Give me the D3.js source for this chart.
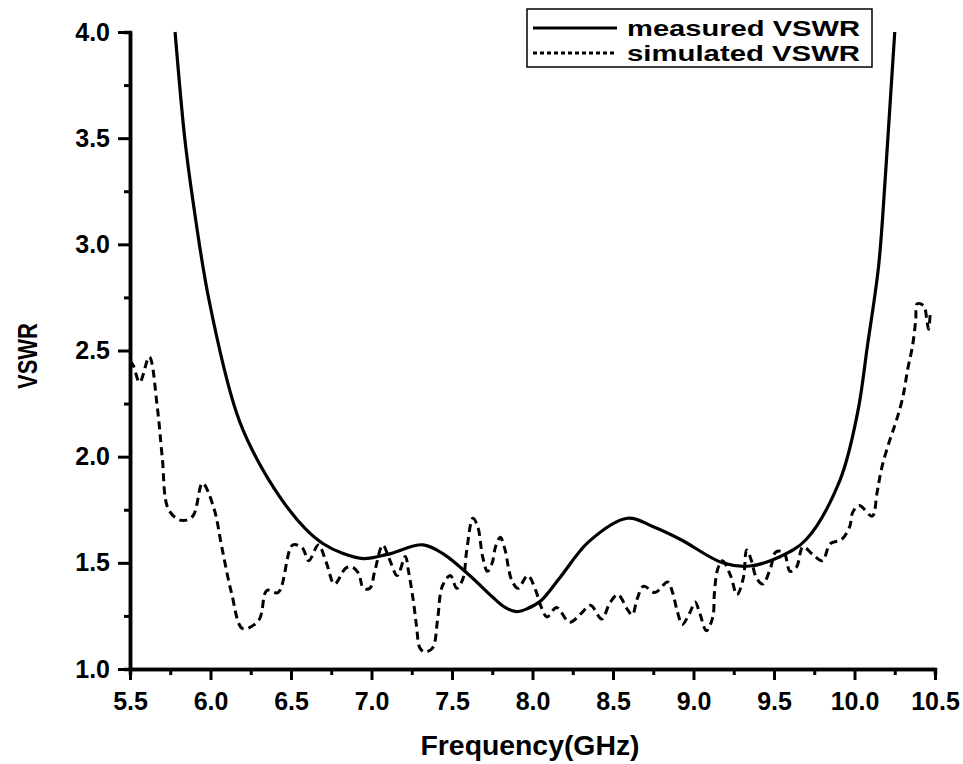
<!DOCTYPE html>
<html>
<head>
<meta charset="utf-8">
<script src="https://cdn.jsdelivr.net/npm/d3@7"></script>
<style>
  html, body { margin: 0; padding: 0; background: #fff; }
  svg { display: block; }
  text { font-family: "Liberation Sans", Arial, sans-serif; font-weight: bold; fill: #000; }
</style>
</head>
<body>
<svg id="chart" width="963" height="764"></svg>
<script>
// Measured VSWR: frequency (GHz) and VSWR
const measuredFreq = [5.78, 5.84, 5.89, 5.99, 6.16, 6.26, 6.44, 6.59, 6.70, 6.82, 6.95, 7.10, 7.32, 7.45, 7.61, 7.75, 7.83, 7.90, 7.97, 8.05, 8.17, 8.35, 8.59, 8.75, 8.92, 9.18, 9.35, 9.54, 9.70, 9.91, 10.02, 10.08, 10.15, 10.19, 10.22, 10.25];
const measuredVswr = [4.00, 3.50, 3.21, 2.74, 2.21, 2.03, 1.80, 1.66, 1.59, 1.545, 1.52, 1.54, 1.585, 1.54, 1.44, 1.34, 1.29, 1.27, 1.285, 1.32, 1.43, 1.60, 1.71, 1.67, 1.61, 1.50, 1.485, 1.53, 1.61, 1.89, 2.21, 2.52, 2.90, 3.30, 3.65, 4.00];

// Simulated VSWR: frequency (GHz) and VSWR
const simulatedFreq = [5.50, 5.52, 5.56, 5.62, 5.67, 5.70, 5.74, 5.82, 5.89, 5.95, 6.02, 6.07, 6.13, 6.20, 6.30, 6.35, 6.42, 6.51, 6.57, 6.61, 6.67, 6.72, 6.77, 6.84, 6.88, 6.92, 6.95, 6.99, 7.02, 7.07, 7.11, 7.16, 7.21, 7.23, 7.26, 7.28, 7.30, 7.33, 7.38, 7.41, 7.44, 7.49, 7.53, 7.57, 7.59, 7.63, 7.66, 7.69, 7.72, 7.75, 7.77, 7.80, 7.83, 7.85, 7.87, 7.91, 7.97, 8.02, 8.05, 8.09, 8.15, 8.23, 8.30, 8.36, 8.43, 8.48, 8.53, 8.59, 8.62, 8.65, 8.69, 8.76, 8.84, 8.87, 8.90, 8.93, 8.98, 9.01, 9.04, 9.08, 9.12, 9.13, 9.15, 9.18, 9.23, 9.27, 9.31, 9.33, 9.36, 9.39, 9.43, 9.48, 9.51, 9.56, 9.60, 9.64, 9.68, 9.74, 9.80, 9.85, 9.92, 9.97, 9.99, 10.03, 10.11, 10.14, 10.17, 10.22, 10.26, 10.30, 10.33, 10.36, 10.38, 10.39, 10.43, 10.45, 10.46, 10.47];
const simulatedVswr = [2.45, 2.43, 2.35, 2.47, 2.23, 2.00, 1.75, 1.70, 1.72, 1.875, 1.76, 1.575, 1.36, 1.19, 1.23, 1.37, 1.36, 1.584, 1.57, 1.51, 1.584, 1.50, 1.40, 1.475, 1.48, 1.45, 1.38, 1.38, 1.46, 1.584, 1.52, 1.44, 1.53, 1.46, 1.32, 1.20, 1.10, 1.08, 1.10, 1.23, 1.39, 1.44, 1.38, 1.43, 1.55, 1.71, 1.67, 1.53, 1.46, 1.50, 1.575, 1.62, 1.56, 1.48, 1.42, 1.38, 1.44, 1.37, 1.30, 1.245, 1.29, 1.22, 1.26, 1.30, 1.235, 1.31, 1.35, 1.28, 1.255, 1.33, 1.39, 1.36, 1.41, 1.36, 1.27, 1.21, 1.27, 1.315, 1.26, 1.18, 1.245, 1.36, 1.47, 1.51, 1.44, 1.35, 1.43, 1.56, 1.51, 1.43, 1.40, 1.48, 1.55, 1.55, 1.46, 1.48, 1.575, 1.54, 1.51, 1.59, 1.61, 1.67, 1.74, 1.77, 1.72, 1.83, 1.95, 2.08, 2.17, 2.28, 2.41, 2.52, 2.64, 2.72, 2.71, 2.64, 2.60, 2.67];

// Axis ticks
const xMajorTicks = [5.5, 6.0, 6.5, 7.0, 7.5, 8.0, 8.5, 9.0, 9.5, 10.0, 10.5];
const xMinorTicks = [5.75, 6.25, 6.75, 7.25, 7.75, 8.25, 8.75, 9.25, 9.75, 10.25];
const yMajorTicks = [1.0, 1.5, 2.0, 2.5, 3.0, 3.5, 4.0];
const yMinorTicks = [1.25, 1.75, 2.25, 2.75, 3.25, 3.75];

const seriesNames = ["measured VSWR", "simulated VSWR"];
const xTitle = "Frequency(GHz)";
const yTitle = "VSWR";

const svg = d3.select("#chart");
const plot = { left: 130, right: 935, top: 32, bottom: 669 };

const x = d3.scaleLinear().domain([5.5, 10.5]).range([plot.left, plot.right]);
const y = d3.scaleLinear().domain([1.0, 4.0]).range([plot.bottom, plot.top]);

// Curves
const measured = measuredFreq.map((f, i) => [f, measuredVswr[i]]);
const simulated = simulatedFreq.map((f, i) => [f, simulatedVswr[i]]);

const line = d3.line()
  .x(d => x(d[0]))
  .y(d => y(d[1]))
  .curve(d3.curveCatmullRom.alpha(0.5));

svg.append("path")
  .datum(simulated)
  .attr("d", line)
  .attr("fill", "none")
  .attr("stroke", "#000")
  .attr("stroke-width", 3)
  .attr("stroke-dasharray", "8,5");

svg.append("path")
  .datum(measured)
  .attr("d", line)
  .attr("fill", "none")
  .attr("stroke", "#000")
  .attr("stroke-width", 3.2);

// Axes
function styleAxis(g) {
  g.select(".domain").attr("stroke", "#000").attr("stroke-width", 3.5);
  g.selectAll(".tick line").attr("stroke", "#000").attr("stroke-width", 3);
  g.selectAll(".tick text").style("font-size", "25px");
}

svg.append("g")
  .attr("transform", `translate(0,${plot.bottom})`)
  .call(d3.axisBottom(x).tickValues(xMinorTicks).tickSize(6).tickFormat(""))
  .call(styleAxis);

svg.append("g")
  .attr("transform", `translate(0,${plot.bottom})`)
  .call(d3.axisBottom(x).tickValues(xMajorTicks).tickSize(11).tickSizeOuter(0).tickPadding(12).tickFormat(d3.format(".1f")))
  .call(styleAxis);

svg.append("g")
  .attr("transform", `translate(${plot.left},0)`)
  .call(d3.axisLeft(y).tickValues(yMinorTicks).tickSize(6).tickFormat(""))
  .call(styleAxis);

svg.append("g")
  .attr("transform", `translate(${plot.left},0)`)
  .call(d3.axisLeft(y).tickValues(yMajorTicks).tickSize(12).tickSizeOuter(0).tickPadding(8).tickFormat(d3.format(".1f")))
  .call(styleAxis);

// Axis titles
svg.append("text")
  .attr("x", 530)
  .attr("y", 755)
  .attr("text-anchor", "middle")
  .style("font-size", "28px")
  .attr("textLength", 219)
  .attr("lengthAdjust", "spacingAndGlyphs")
  .text(xTitle);

svg.append("text")
  .attr("transform", "translate(37,356) rotate(-90)")
  .attr("text-anchor", "middle")
  .style("font-size", "27px")
  .attr("textLength", 66)
  .attr("lengthAdjust", "spacingAndGlyphs")
  .text(yTitle);

// Legend
const legend = svg.append("g");
legend.append("rect")
  .attr("x", 527).attr("y", 9)
  .attr("width", 345).attr("height", 58)
  .attr("fill", "#fff")
  .attr("stroke", "#000")
  .attr("stroke-width", 1.5);

const legendRows = [
  { name: seriesNames[0], dash: null, cy: 28, base: 36 },
  { name: seriesNames[1], dash: "4,3", cy: 53, base: 61 }
];
legendRows.forEach(r => {
  legend.append("line")
    .attr("x1", 533).attr("x2", 617)
    .attr("y1", r.cy).attr("y2", r.cy)
    .attr("stroke", "#000")
    .attr("stroke-width", 3)
    .attr("stroke-dasharray", r.dash);
  legend.append("text")
    .attr("x", 627)
    .attr("y", r.base)
    .style("font-size", "22px")
    .attr("textLength", 233)
    .attr("lengthAdjust", "spacingAndGlyphs")
    .text(r.name);
});
</script>
</body>
</html>
